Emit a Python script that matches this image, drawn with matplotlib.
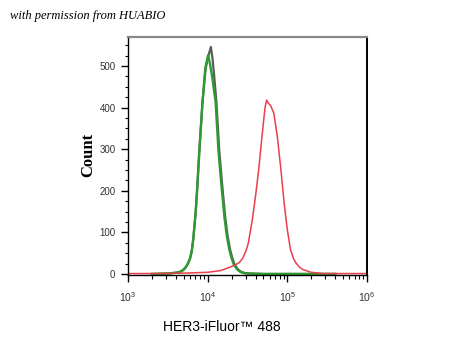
# Flow cytometry histogram: HER3-iFluor 488
import numpy as np
import matplotlib.pyplot as plt
from matplotlib.ticker import FixedLocator, LogLocator, NullFormatter

plt.rcParams['font.family'] = ['Liberation Sans', 'DejaVu Sans']
plt.rcParams['mathtext.fontset'] = 'custom'
plt.rcParams['mathtext.rm'] = 'Liberation Sans'

# log10 of fluorescence intensity and event counts
gray_log = [3.30, 3.50, 3.60, 3.65, 3.69, 3.72, 3.75, 3.78, 3.80, 3.82, 3.85,
            3.87, 3.895, 3.935, 3.975, 4.01, 4.04, 4.06, 4.08, 4.11, 4.145,
            4.18, 4.22, 4.25, 4.28, 4.31, 4.34, 4.38, 4.42, 4.47, 4.53,
            4.70, 5.00, 5.60]
gray_count = [0, 1, 3, 5, 9, 15, 24, 38, 55, 85, 150,
              210, 295, 413, 495, 525, 546, 520, 480, 413, 298,
              219, 137, 92, 60, 38, 22, 11, 5, 2, 1,
              0, 0, 0]

green_log = [3.30, 3.50, 3.60, 3.65, 3.69, 3.72, 3.75, 3.78, 3.80, 3.82, 3.85,
             3.87, 3.895, 3.935, 3.97, 4.005, 4.03, 4.06, 4.10, 4.135, 4.17,
             4.21, 4.24, 4.27, 4.30, 4.33, 4.37, 4.41, 4.46, 4.52, 4.70,
             5.00, 5.60]
green_count = [0, 1, 3, 5, 9, 15, 24, 38, 55, 85, 150,
               210, 295, 413, 495, 526, 505, 470, 413, 298, 219,
               137, 92, 60, 38, 22, 11, 5, 2, 1, 0,
               0, 0]

red_log = [3.00, 3.40, 3.70, 3.85, 4.00, 4.16, 4.29, 4.35, 4.40, 4.44, 4.48,
           4.51, 4.56, 4.60, 4.64, 4.69, 4.72, 4.74, 4.765, 4.79, 4.83,
           4.875, 4.92, 4.96, 5.00, 5.04, 5.08, 5.11, 5.15, 5.19, 5.30,
           5.45, 6.00]
red_count = [1, 1, 2, 3, 4, 8, 17, 22, 28, 38, 55,
             74, 130, 186, 250, 346, 400, 418, 410, 405, 387,
             330, 250, 170, 106, 58, 36, 26, 17, 11, 4,
             1, 1]

decades = [3, 4, 5, 6]
y_major = [0, 100, 200, 300, 400, 500]

fig = plt.figure(figsize=(4.5, 3.6), dpi=100)
ax = fig.add_axes([128 / 450, 1 - 275 / 360, 239 / 450, 238 / 360])

ax.plot(10 ** np.array(gray_log), gray_count, color='#5a5a5a', lw=1.6)
ax.plot(10 ** np.array(green_log), green_count, color='#2f9a30', lw=1.7)
ax.plot(10 ** np.array(red_log), red_count, color='#e8404a', lw=1.1)

ax.set_xscale('log')
ax.set_xlim(1e3, 1e6)
ax.set_ylim(-2.5, 570)

ax.set_xticks([10 ** d for d in decades])
ax.set_xticklabels(['$10^{%d}$' % d for d in decades])
ax.xaxis.set_minor_locator(LogLocator(base=10, subs=np.arange(2, 10)))
ax.xaxis.set_minor_formatter(NullFormatter())

ax.set_yticks(y_major)
ax.yaxis.set_minor_locator(FixedLocator(np.arange(0, 576, 25)))

ax.tick_params(axis='x', which='major', direction='out', length=5, width=1,
               labelsize=7.5, pad=6)
ax.tick_params(axis='x', which='minor', direction='out', length=3, width=0.8)
ax.tick_params(axis='y', which='major', direction='out', length=5, width=1,
               labelsize=7, pad=4)
ax.tick_params(axis='y', which='minor', direction='out', length=2.5, width=0.8)
for lab in ax.get_xticklabels() + ax.get_yticklabels():
    lab.set_color('#333333')

ax.spines['top'].set_color('#888888')
ax.spines['top'].set_linewidth(1.6)
ax.spines['right'].set_linewidth(1.4)
ax.spines['left'].set_linewidth(1.0)
ax.spines['bottom'].set_linewidth(1.0)

fig.text(88 / 450, 1 - 155 / 360, 'Count', rotation=90, ha='center', va='center',
         family='Liberation Serif', fontweight='bold', fontsize=12)
fig.text(222 / 450, 1 - 327 / 360, 'HER3-iFluor™ 488', ha='center', va='center',
         family='Liberation Sans', fontsize=10)
fig.text(10 / 450, 1 - 16 / 360, 'with permission from HUABIO', ha='left', va='center',
         family='Liberation Serif', style='italic', fontsize=9)

fig.savefig('out.png', dpi=100)
